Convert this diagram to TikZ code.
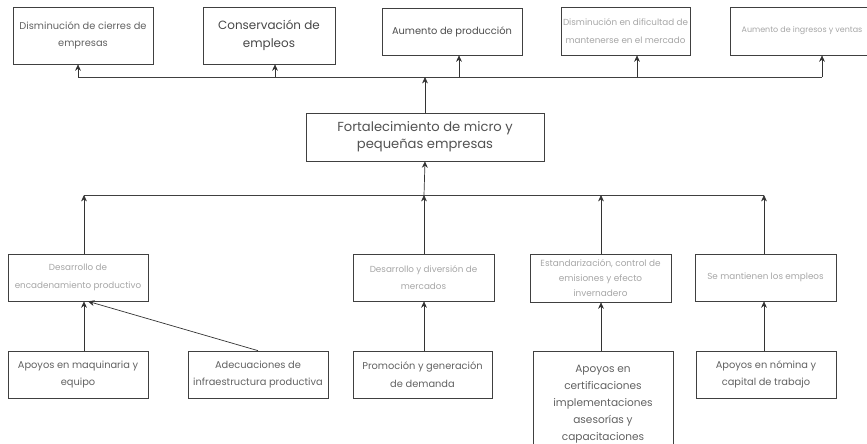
\documentclass[tikz,border=0pt]{standalone}
\usepackage{fontspec}
\setmainfont{Poppins}
\usetikzlibrary{arrows.meta}

\begin{document}
\begin{tikzpicture}[x=0.03cm, y=-0.03cm,
  every node/.style = {shape=rectangle, draw=black!75, line width=0.6pt,
    align=center, inner sep=1pt},
  box/.style = {minimum width=4.2cm, minimum height=1.41cm},
  dim/.style = {text=black!35, font=\fontsize{7.5}{15}\selectfont},
  mid/.style = {text=black!62, font=\fontsize{8.4}{15}\selectfont},
  arr/.style = {draw=black!80, line width=0.6pt, -{Stealth[length=5.5pt,width=5pt]}},
  bus/.style = {draw=black!75, line width=0.6pt}]
  \useasboundingbox (0,0) rectangle (867,443);

  % efectos
  \node[box, mid, minimum height=1.71cm] (cierres) at (83,35.5)
    {Disminución de cierres de\\empresas};
  \node[box, minimum width=3.96cm, minimum height=1.71cm, text=black!72,
    font=\fontsize{10.2}{15}\selectfont] (empleos) at (269,35.5)
    {Conservación de\\empleos};
  \node[box, text=black!70, font=\fontsize{8.4}{15}\selectfont,
    minimum height=1.41cm] (produccion) at (452,31.5) {Aumento de producción};
  \node[box, dim, minimum width=3.87cm, minimum height=1.44cm] (mercado) at (625.5,31)
    {Disminución en dificultad de\\mantenerse en el mercado};
  \node[box, dim, minimum width=4.3cm, minimum height=1.44cm,
    font=\fontsize{6.8}{15}\selectfont] (ventas) at (802,31)
    {Aumento de ingresos y ventas};

  % problema central
  \node[box, minimum width=7.14cm, minimum height=1.44cm, text=black!68,
    font=\fontsize{11.2}{14.5}\selectfont] (fortalecimiento) at (425,137)
    {Fortalecimiento de micro y\\pequeñas empresas};

  % medios
  \node[box, dim] (encadenamiento) at (78,277.5)
    {Desarrollo de\\encadenamiento productivo};
  \node[box, dim, minimum width=4.23cm] (diversion) at (423.5,277.5)
    {Desarrollo y diversión de\\mercados};
  \node[box, dim, minimum width=4.23cm, minimum height=1.44cm,
    font=\fontsize{7.6}{12.8}\selectfont] (emisiones) at (600.5,278)
    {Estandarización, control de\\emisiones y efecto\\invernadero};
  \node[box, dim, minimum width=4.23cm] (mantienen) at (765.5,277.5)
    {Se mantienen los empleos};

  % acciones
  \node[box, mid] (maquinaria) at (78,374.5)
    {Apoyos en maquinaria y\\equipo};
  \node[box, mid] (infraestructura) at (258,374.5)
    {Adecuaciones de\\infraestructura productiva};
  \node[box, mid, minimum width=4.17cm] (promocion) at (422.5,374.5)
    {Promoción y generación\\de demanda};
  \node[box, mid, anchor=north, inner sep=1pt,
    font=\fontsize{9}{14.5}\selectfont] (certificaciones) at (603,351)
    {\rule{0pt}{17pt}Apoyos en\\certificaciones\\implementaciones\\asesorías y\\capacitaciones\\[1.5cm]};
  \node[box, mid] (nomina) at (766,374.5)
    {Apoyos en nómina y\\capital de trabajo};

  % bus superior
  \coordinate (t1) at (78,77);
  \coordinate (t2) at (275,77);
  \coordinate (t3) at (459,77);
  \coordinate (t4) at (637,77);
  \coordinate (t5) at (822,77);
  \draw[bus] (t1) -- (t5);
  \draw[arr] (t1) -- (t1 |- cierres.south);
  \draw[arr] (t2) -- (t2 |- empleos.south);
  \draw[arr] (t3) -- (t3 |- produccion.south);
  \draw[arr] (t4) -- (t4 |- mercado.south);
  \draw[arr] (t5) -- (t5 |- ventas.south);
  \draw[arr] (fortalecimiento.north) -- (fortalecimiento.north |- t1);

  % bus inferior
  \coordinate (m1) at (84,195);
  \coordinate (m2) at (424,195);
  \coordinate (m3) at (601,195);
  \coordinate (m4) at (764,195);
  \draw[bus] (m1) -- (m4);
  \draw[arr] (m2) -- (fortalecimiento.south);
  \draw[arr] (m1 |- encadenamiento.north) -- (m1);
  \draw[arr] (m2 |- diversion.north) -- (m2);
  \draw[arr] (m3 |- emisiones.north) -- (m3);
  \draw[arr] (m4 |- mantienen.north) -- (m4);

  % acciones a medios
  \draw[arr] (m1 |- maquinaria.north) -- (m1 |- encadenamiento.south);
  \draw[arr] (infraestructura.north) -- ([xshift=0.12cm]m1 |- encadenamiento.south);
  \draw[arr] (m2 |- promocion.north) -- (m2 |- diversion.south);
  \draw[arr] (m3 |- certificaciones.north) -- (m3 |- emisiones.south);
  \draw[arr] (m4 |- nomina.north) -- (m4 |- mantienen.south);
\end{tikzpicture}
\end{document}
